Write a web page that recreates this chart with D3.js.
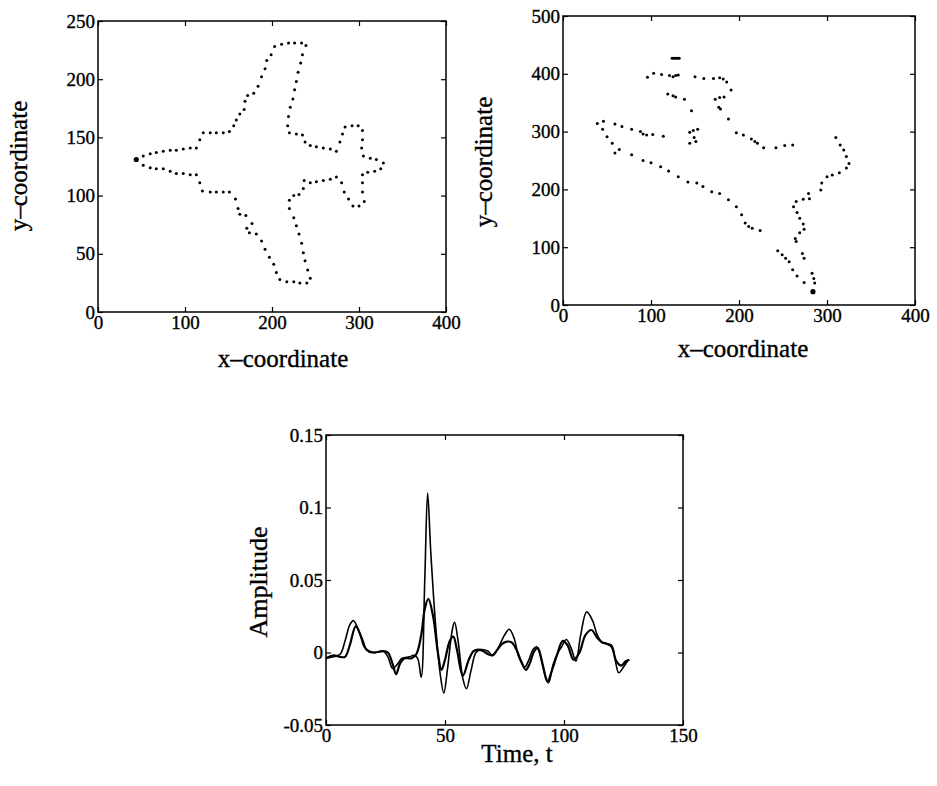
<!DOCTYPE html>
<html>
<head>
<meta charset="utf-8">
<script src="https://cdn.jsdelivr.net/npm/d3@7"></script>
<style>
  body { margin: 0; background: #fff; }
  svg { display: block; }
  text { stroke: #000; stroke-width: 0.35px; }
</style>
</head>
<body>
<script>
// ---- data ----
// panel 1: original airplane contour (dotted), first point is the start marker
var planeX = [44,52,60,67,75,83,90,98,106,113,117,121,129,136,144,151,156,159,163,168,169,172,179,184,188,192,194,199,203,211,219,226,234,239,235,233,230,228,226,224,221,219,218,220,228,235,238,244,251,259,267,274,278,281,284,292,299,304,304,303,305,313,320,328,325,318,310,304,304,304,306,300,293,288,283,280,274,267,259,251,244,237,236,231,225,220,220,225,228,231,234,236,238,241,244,240,232,225,217,209,205,202,197,192,188,182,174,171,177,170,163,161,158,151,144,136,129,120,117,113,106,98,90,83,75,67,60,52];
var planeY = [131,134,136,137,138,139,139,140,141,141,148,154,154,154,154,155,160,165,170,174,181,186,188,194,202,209,216,221,228,230,231,231,231,229,221,214,206,198,191,183,176,168,160,154,153,152,146,143,142,141,140,138,146,153,159,160,160,156,148,141,134,132,131,128,123,121,120,118,111,103,95,91,91,97,103,111,116,114,113,112,111,113,106,101,100,96,89,81,74,67,59,51,44,36,29,25,25,26,26,28,34,41,47,54,61,67,68,72,76,83,84,89,97,103,103,103,103,104,111,118,118,119,119,121,123,123,124,126];

// panel 2: distorted / rotated contour
var warpX = [284,283,285,286,274,266,261,257,253,249,244,272,274,264,265,269,274,273,269,266,262,265,273,280,279,293,294,300,306,314,322,325,322,319,315,310,
  224,215,211,207,203,197,188,178,169,159,152,142,131,120,111,100,91,78,64,59,56,50,45,39,46,59,67,78,88,91,95,102,114,
  144,151,149,144,148,153,146,
  197,205,214,218,221,228,242,252,261,
  188,179,177,173,178,183,191,186,182,178,171,160,150,
  119,125,128,138,96,103,112,121,125,128,131,
  124,126,128,130,132];
var warpY = [23,55,46,38,39,50,61,75,81,87,94,89,81,115,110,125,131,140,150,160,170,179,183,184,193,199,211,222,225,229,237,245,257,268,277,290,
  129,133,136,142,156,170,182,193,196,205,211,213,222,232,239,246,250,260,269,263,280,291,304,314,318,313,309,304,300,296,294,295,292,
  280,283,290,299,302,304,336,
  298,294,287,283,280,272,272,276,277,
  322,339,342,356,359,360,372,386,391,393,392,392,395,
  365,362,360,356,394,401,399,397,395,397,398,
  427,427,427,427,427];

// panel 3: two signals
var timeThin = [0,3,6,8,10,11.5,14,16,18,21,24,26,28,30,32,35,37,38.5,40,41.5,42.7,44,46,48,49.5,51,53,54,55.5,57.5,59,61,63,65,68,70,72,75,77,79,81,83.5,85,87,88.5,90,92,93.5,95.5,97.5,99,101,103,105,107,109.5,112,114,116,118,120,121.5,123,125,127];
var ampThin = [-0.004,-0.003,-0.001,0.008,0.019,0.022,0.014,0.004,0.0005,0,0.001,-0.003,-0.011,-0.008,-0.004,-0.003,-0.002,-0.004,-0.017,0.05,0.110,0.07,0.02,-0.015,-0.028,-0.012,0.015,0.021,0.008,-0.018,-0.025,-0.012,0,0.002,0.001,-0.002,0.002,0.012,0.016,0.010,-0.003,-0.010,-0.006,0.002,0.004,-0.002,-0.015,-0.021,-0.008,0,0.004,0.009,0.003,-0.006,0.012,0.028,0.022,0.012,0.007,0.006,0.005,-0.005,-0.014,-0.010,-0.005];
var timeThick = [0,3,6,8,10,12.5,15,17,20,24,26,28,29.5,31,33,36,38,40,41.5,43,45,47,48.5,50,52,53.5,55,57.5,60,62,64,66,68,70,72,74,76,78,80,82,84,85.5,87.5,89,91,93,95,97,99.5,101.5,104,106.5,109,111.5,114,116,118,120,122,124,126,127.5];
var ampThick = [-0.004,-0.002,-0.003,-0.003,0.005,0.018,0.010,0.002,0,0.001,0,-0.008,-0.015,-0.008,-0.004,-0.004,-0.001,0.012,0.030,0.037,0.025,0.000,-0.012,-0.005,0.008,0.011,0.002,-0.016,-0.005,0.001,0.002,0.001,-0.001,-0.002,0.002,0.006,0.0075,0.007,0.002,-0.006,-0.012,-0.008,0.001,0.003,-0.008,-0.020,-0.012,-0.002,0.008,0.005,-0.005,0.000,0.012,0.0155,0.010,0.007,0.006,0.004,-0.006,-0.009,-0.006,-0.005];

// tick values / labels
var xTicksCoord = [0, 100, 200, 300, 400];
var yTicksPlane = [0, 50, 100, 150, 200, 250];
var yTicksWarp = [0, 100, 200, 300, 400, 500];
var xTicksTime = [0, 50, 100, 150];
var yTicksAmp = [-0.05, 0, 0.05, 0.1, 0.15];
var yLabelsAmp = ["-0.05", "0", "0.05", "0.1", "0.15"];

var FONT = "'Liberation Serif', 'Times New Roman', Times, serif";

var svg = d3.select("body").append("svg")
    .attr("width", 937)
    .attr("height", 786)
    .style("background", "#fff");

// draws a boxed panel with inward ticks on all four sides
function panel(box, xDom, yDom, xTicks, yTicks, yFmt) {
    var x = d3.scaleLinear().domain(xDom).range([box.left, box.right]);
    var y = d3.scaleLinear().domain(yDom).range([box.bottom, box.top]);
    var g = svg.append("g");

    function style(a) {
        a.attr("font-family", null).attr("font-size", null);
        a.select(".domain").remove();
        a.selectAll(".tick line").attr("stroke", "#000").attr("stroke-width", 1.2);
        a.selectAll(".tick text")
            .attr("fill", "#000")
            .style("font-family", FONT)
            .style("font-size", "19px");
    }

    g.append("g")
        .attr("transform", "translate(0," + box.bottom + ")")
        .call(d3.axisBottom(x).tickValues(xTicks).tickSizeInner(-5).tickSizeOuter(0).tickPadding(4))
        .call(style);
    g.append("g")
        .attr("transform", "translate(0," + box.top + ")")
        .call(d3.axisTop(x).tickValues(xTicks).tickSizeInner(-5).tickSizeOuter(0).tickFormat(""))
        .call(style);
    g.append("g")
        .attr("transform", "translate(" + box.left + ",0)")
        .call(d3.axisLeft(y).tickValues(yTicks).tickSizeInner(-5).tickSizeOuter(0).tickPadding(3)
            .tickFormat(yFmt || d3.format("d")))
        .call(style);
    g.append("g")
        .attr("transform", "translate(" + box.right + ",0)")
        .call(d3.axisRight(y).tickValues(yTicks).tickSizeInner(-5).tickSizeOuter(0).tickFormat(""))
        .call(style);

    g.append("rect")
        .attr("x", box.left)
        .attr("y", box.top)
        .attr("width", box.right - box.left)
        .attr("height", box.bottom - box.top)
        .attr("fill", "none")
        .attr("stroke", "#000")
        .attr("stroke-width", 1.5);

    return {x: x, y: y, g: g};
}

function label(txt, cx, cy, rot, size) {
    svg.append("text")
        .attr("transform", "translate(" + cx + "," + cy + ")" + (rot ? " rotate(-90)" : ""))
        .attr("text-anchor", "middle")
        .style("font-family", FONT)
        .style("font-size", size + "px")
        .attr("fill", "#000")
        .text(txt);
}

// ---- panel 1 ----
var p1 = panel({left: 98, right: 446, top: 21, bottom: 312}, [0, 400], [0, 250], xTicksCoord, yTicksPlane);
p1.g.selectAll(".dot")
    .data(d3.range(planeX.length))
    .enter().append("circle")
    .attr("cx", function (i) { return p1.x(planeX[i]); })
    .attr("cy", function (i) { return p1.y(planeY[i]); })
    .attr("r", function (i) { return i === 0 ? 2.6 : 1.5; })
    .attr("fill", "#000");
label("x\u2013coordinate", 283, 367, false, 25);
label("y\u2013coordinate", 27, 166, true, 25);

// ---- panel 2 ----
var p2 = panel({left: 563, right: 915, top: 16, bottom: 305}, [0, 400], [0, 500], xTicksCoord, yTicksWarp);
p2.g.selectAll(".dot")
    .data(d3.range(warpX.length))
    .enter().append("circle")
    .attr("cx", function (i) { return p2.x(warpX[i]); })
    .attr("cy", function (i) { return p2.y(warpY[i]); })
    .attr("r", function (i) { return i === 0 ? 2.6 : 1.5; })
    .attr("fill", "#000");
label("x\u2013coordinate", 743, 357, false, 25);
label("y\u2013coordinate", 492, 162, true, 25);

// ---- panel 3 ----
var p3 = panel({left: 326, right: 683, top: 435, bottom: 725}, [0, 150], [-0.05, 0.15], xTicksTime, yTicksAmp,
    function (d) { return yLabelsAmp[yTicksAmp.indexOf(d)]; });

var line = d3.line()
    .x(function (d) { return p3.x(d[0]); })
    .y(function (d) { return p3.y(d[1]); })
    .curve(d3.curveCatmullRom.alpha(0.5));

p3.g.append("path")
    .datum(d3.zip(timeThick, ampThick))
    .attr("d", line)
    .attr("fill", "none")
    .attr("stroke", "#000")
    .attr("stroke-width", 2.2);
p3.g.append("path")
    .datum(d3.zip(timeThin, ampThin))
    .attr("d", line)
    .attr("fill", "none")
    .attr("stroke", "#000")
    .attr("stroke-width", 1.6);

label("Time, t", 517, 762, false, 25);
label("Amplitude", 267, 582, true, 26);
</script>
</body>
</html>
